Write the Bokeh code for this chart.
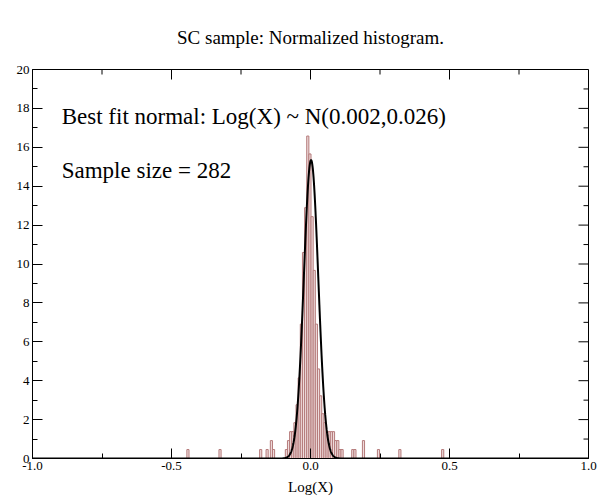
import numpy as np
from bokeh.plotting import figure
from bokeh.models import Label, Range1d, FixedTicker, ColumnDataSource
from bokeh.embed import file_html
from bokeh.resources import INLINE

# ---- text ----
title_text = "SC sample: Normalized histogram."
fit_text = "Best fit normal: Log(X) ~ N(0.002,0.026)"
size_text = "Sample size = 282"
x_label = "Log(X)"

# ---- data ----
sample_size = 282
fit_mu = 0.002
fit_sigma = 0.026
bin_width = 0.0077

bin_centers = [-0.4409, -0.3254, -0.1791, -0.1560, -0.1406, -0.1329, -0.0867, -0.0790,
               -0.0713, -0.0636, -0.0559, -0.0482, -0.0405, -0.0328, -0.0251, -0.0174,
               -0.0097, -0.0020, 0.0058, 0.0135, 0.0212, 0.0289, 0.0366, 0.0443,
               0.0520, 0.0597, 0.0674, 0.0751, 0.0828, 0.0905, 0.0982, 0.1059,
               0.1136, 0.1521, 0.1598, 0.1906, 0.2445, 0.3215, 0.4755]
bin_counts = [1, 1, 1, 1, 2, 1, 1, 2,
              3, 3, 4, 6, 9, 15, 23, 28,
              36, 34, 27, 21, 15, 10, 7, 5,
              4, 3, 3, 3, 3, 2, 2, 1,
              1, 1, 1, 2, 1, 1, 1]

x_ticks = [-1.0, -0.5, 0.0, 0.5, 1.0]
x_tick_labels = ["-1.0", "-0.5", "0.0", "0.5", "1.0"]
x_minor_ticks = [-0.75, -0.25, 0.25, 0.75]
y_ticks = [0, 2, 4, 6, 8, 10, 12, 14, 16, 18, 20]
y_minor_ticks = [1, 3, 5, 7, 9, 11, 13, 15, 17, 19]

FONT = "Liberation Serif"
X0, X1, Y0, Y1 = -1.0, 1.0, 0.0, 20.0
W, H = 602, 502
BL, BR, BT, BB = 32, 14, 69, 44
FW, FH = W - BL - BR, H - BT - BB
MAJ, MIN = 10, 5

centers = np.array(bin_centers)
density = np.array(bin_counts) / (sample_size * bin_width)
bars = ColumnDataSource(dict(x=centers, top=density))

xs = np.linspace(X0, X1, 2001)
ys = np.exp(-0.5 * ((xs - fit_mu) / fit_sigma) ** 2) / (fit_sigma * np.sqrt(2 * np.pi))
curve = ColumnDataSource(dict(x=xs, y=ys))

p = figure(width=W, height=H, output_backend="svg", toolbar_location=None,
           x_range=Range1d(X0, X1), y_range=Range1d(Y0, Y1),
           min_border_left=BL, min_border_right=BR, min_border_top=BT, min_border_bottom=BB,
           background_fill_color="white", border_fill_color="white")
p.xgrid.visible = False
p.ygrid.visible = False
p.outline_line_color = "black"
p.outline_line_width = 1

p.title.text = title_text
p.title.align = "center"
p.title.text_font = FONT
p.title.text_font_size = "19px"
p.title.text_font_style = "normal"
p.title.text_color = "black"
p.title.standoff = 43

p.vbar(x="x", top="top", width=bin_width, bottom=0, source=bars,
       fill_color="#eedcdc", line_color="#b57a7a", line_width=1)
p.line(x="x", y="y", source=curve, line_color="black", line_width=2)

xt = FixedTicker(ticks=x_ticks, minor_ticks=x_minor_ticks)
yt = FixedTicker(ticks=y_ticks, minor_ticks=y_minor_ticks)


def style(ax):
    ax.axis_line_color = "black"
    ax.axis_line_width = 1
    ax.major_tick_in = MAJ
    ax.major_tick_out = 0
    ax.minor_tick_in = MIN
    ax.minor_tick_out = 0
    ax.major_tick_line_color = "black"
    ax.minor_tick_line_color = "black"
    ax.major_label_text_font = FONT
    ax.major_label_text_color = "black"
    ax.major_label_text_font_size = "13px"
    ax.major_label_standoff = 3


xa = p.xaxis[0]
xa.ticker = xt
xa.major_label_overrides = {t: s for t, s in zip(x_ticks, x_tick_labels)}
style(xa)
xa.axis_label = x_label
xa.axis_label_text_font = FONT
xa.axis_label_text_font_style = "normal"
xa.axis_label_text_font_size = "15px"
xa.axis_label_standoff = 6
xa.axis_label_text_color = "black"

ya = p.yaxis[0]
ya.ticker = yt
style(ya)

# mirrored inward ticks on top and right edges
dx = (X1 - X0) / FW
dy = (Y1 - Y0) / FH
top_x = list(x_ticks) + list(x_minor_ticks)
top_len = [MAJ] * len(x_ticks) + [MIN] * len(x_minor_ticks)
p.segment(x0=top_x, y0=[Y1] * len(top_x), x1=top_x,
          y1=[Y1 - L * dy for L in top_len], line_color="black", line_width=1)
right_y = list(y_ticks) + list(y_minor_ticks)
right_len = [MAJ] * len(y_ticks) + [MIN] * len(y_minor_ticks)
p.segment(x0=[X1] * len(right_y), y0=right_y, x1=[X1 - L * dx for L in right_len],
          y1=right_y, line_color="black", line_width=1)

p.add_layout(Label(x=-0.895, y=17.6, text=fit_text, text_align="left",
                   text_baseline="middle", text_font=FONT, text_font_size="23px",
                   text_color="black"))
p.add_layout(Label(x=-0.895, y=14.8, text=size_text, text_align="left",
                   text_baseline="middle", text_font=FONT, text_font_size="23px",
                   text_color="black"))

open("out.html", "w").write(file_html(p, INLINE))
